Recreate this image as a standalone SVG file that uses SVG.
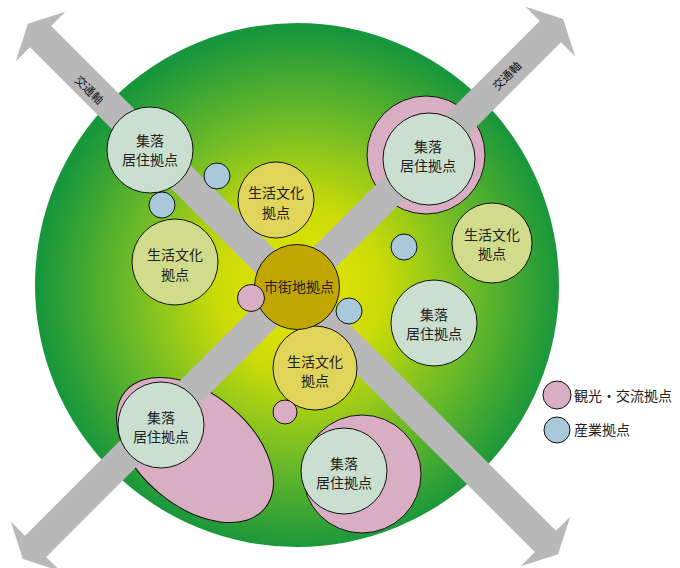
<svg xmlns="http://www.w3.org/2000/svg" width="680" height="568" viewBox="0 0 680 568">
<defs>
<radialGradient id="bg" cx="300" cy="290" r="262" gradientUnits="userSpaceOnUse">
<stop offset="0" stop-color="#e8e600"/>
<stop offset="0.32" stop-color="#cadb08"/>
<stop offset="0.66" stop-color="#6cba28"/>
<stop offset="1" stop-color="#17963c"/>
</radialGradient>
<style>
.band{fill:#b8b8b8}
.pk{fill:#d9aec2;stroke:#111;stroke-width:1}
.bl{fill:#a8c9d9;stroke:#111;stroke-width:1}
.vil{fill:#cbdfd0;stroke:#111;stroke-width:1}
.lc1{fill:#d0dc8c;stroke:#111;stroke-width:1}
.lc2{fill:#e0d45a;stroke:#111;stroke-width:1}
.city{fill:#c2a600;stroke:#111;stroke-width:1}
text{font-family:"Noto Sans CJK JP","Noto Sans CJK SC",sans-serif;fill:#222;text-anchor:middle}
.t{font-size:14px}
.ax{font-size:11.5px;fill:#111}
.lg{font-size:14px;text-anchor:start}
</style>
</defs>
<circle id="area" cx="297" cy="285" r="262" fill="url(#bg)"/>
<g id="tourism-areas">
<circle class="pk" cx="426" cy="155" r="59"/>
<ellipse class="pk" cx="195" cy="450" rx="91" ry="56" transform="rotate(40 195 450)"/>
<circle class="pk" cx="362" cy="474" r="59"/>
</g>
<g id="connectors">
<polygon class="band" transform="translate(293 289) rotate(45)" points="-375,0 -357,-35 -357,-15 357,-15 357,-35 375,0 357,35 357,15 -357,15 -357,35"/>
<polygon class="band" transform="translate(293 289) rotate(-45)" points="-382,0 -364,-35 -364,-15 364,-15 364,-35 382,0 364,35 364,15 -364,15 -364,35"/>
<text class="ax" transform="translate(89 90) rotate(45)" y="4">交通軸</text>
<text class="ax" transform="translate(507 76) rotate(-45)" y="4">交通軸</text>
</g>
<g id="village-tl"><circle class="vil" cx="150" cy="150" r="43"/><text class="t" x="150" y="146">集落</text><text class="t" x="150" y="165">居住拠点</text></g>
<g id="village-tr"><circle class="vil" cx="429" cy="159" r="46"/><text class="t" x="428" y="151.5">集落</text><text class="t" x="428" y="170.5">居住拠点</text></g>
<g id="village-r"><circle class="vil" cx="434" cy="323" r="43"/><text class="t" x="434" y="319.5">集落</text><text class="t" x="434" y="338.5">居住拠点</text></g>
<g id="village-bl"><circle class="vil" cx="161" cy="425" r="43"/><text class="t" x="161" y="422.5">集落</text><text class="t" x="161" y="441.5">居住拠点</text></g>
<g id="village-bc"><circle class="vil" cx="344" cy="471" r="43"/><text class="t" x="344" y="469">集落</text><text class="t" x="344" y="488">居住拠点</text></g>
<g id="life-tc"><circle class="lc2" cx="276" cy="200" r="38"/><text class="t" x="276" y="198">生活文化</text><text class="t" x="276" y="218">拠点</text></g>
<g id="life-l"><circle class="lc1" cx="175" cy="262" r="43"/><text class="t" x="175" y="260">生活文化</text><text class="t" x="175" y="280">拠点</text></g>
<g id="life-r"><circle class="lc1" cx="492" cy="243" r="40"/><text class="t" x="492" y="240">生活文化</text><text class="t" x="492" y="259">拠点</text></g>
<g id="life-bc"><circle class="lc2" cx="315" cy="368" r="42"/><text class="t" x="315" y="366.5">生活文化</text><text class="t" x="315" y="386">拠点</text></g>
<g id="city"><circle class="city" cx="297" cy="287" r="42.5"/><text class="t" x="299" y="292">市街地拠点</text></g>
<g id="industry-1"><circle class="bl" cx="217" cy="176" r="13"/></g>
<g id="industry-2"><circle class="bl" cx="162" cy="205" r="13"/></g>
<g id="industry-3"><circle class="bl" cx="404" cy="247" r="13"/></g>
<g id="industry-4"><circle class="bl" cx="349" cy="311" r="13"/></g>
<g id="tourism-1"><circle class="pk" cx="251" cy="298" r="13.5"/></g>
<g id="tourism-2"><circle class="pk" cx="285" cy="412" r="12"/></g>
<g id="legend">
<circle class="pk" cx="557" cy="395" r="14"/><text class="lg" x="574" y="401">観光・交流拠点</text>
<circle class="bl" cx="557" cy="430" r="13"/><text class="lg" x="574" y="435">産業拠点</text>
</g>
</svg>
